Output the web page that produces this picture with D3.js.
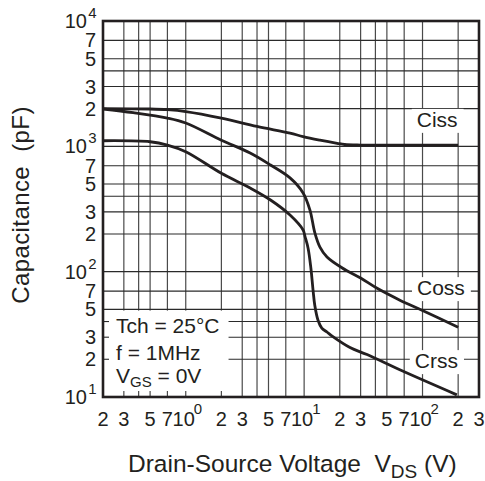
<!DOCTYPE html>
<html><head><meta charset="utf-8">
<script src="https://cdn.jsdelivr.net/npm/d3@7"></script>
<style>
body{margin:0;background:#fff}
text{font-family:"Liberation Sans",Arial,Helvetica,sans-serif;fill:#231f20;white-space:pre}
</style>
</head><body>
<svg id="chart" width="485" height="481"></svg>
<script>
// ---- data ----
const cissV = [0.2, 0.5, 0.7, 1, 2, 4, 7.6, 9.8, 13.6, 19, 22, 30, 200];
const cissC = [2000, 1985, 1960, 1895, 1680, 1440, 1275, 1195, 1120, 1057, 1034, 1024, 1024];

const cossV = [0.2, 0.36, 0.7, 1, 2, 3.5, 5.2, 7.6, 9.8, 11.2, 12.3, 13.6, 15.6, 21, 30, 41, 65, 100, 200];
const cossC = [1985, 1855, 1680, 1535, 1120, 885, 710, 560, 425, 310, 205, 157, 131, 107, 89, 74, 59, 49, 36];

const crssV = [0.2, 0.5, 0.7, 1, 2, 3.5, 5.2, 7.6, 9.8, 10.2, 10.8, 11.4, 11.9, 12.3, 13.1, 14.1, 15.6, 17.5, 24.4, 34, 65, 195];
const crssC = [1108, 1088, 1024, 906, 609, 465, 373, 283, 215, 189, 154, 107, 71, 54, 41, 35.5, 33, 30.3, 24.8, 21.8, 16.4, 10.4];

const seriesNames = ["Ciss", "Coss", "Crss"];
// label anchor points (V, C) for series names
const labelV = [133, 143, 131];
const labelC = [1430, 65, 17];

const xTicks = [0.2, 0.3, 0.5, 0.7, 1, 2, 3, 5, 7, 10, 20, 30, 50, 70, 100, 200, 300];
const xGrid = [0.3, 0.4, 0.5, 0.7, 1, 2, 3, 4, 5, 7, 10, 20, 30, 40, 50, 70, 100, 200];
const yTicks = [10, 20, 30, 50, 70, 100, 200, 300, 500, 700, 1000, 2000, 3000, 5000, 7000, 10000];
const yGrid = [20, 30, 40, 50, 70, 100, 200, 300, 400, 500, 700, 1000, 2000, 3000, 4000, 5000, 7000];

const condLines = [["Tch = 25°C"], ["f = 1MHz"], ["V", "GS", " = 0V"]];
const xTitle = ["Drain-Source Voltage  V", "DS", " (V)"];
const yTitle = "Capacitance  (pF)";

// ---- layout ----
const L = 103, R = 479, T = 21, B = 397;
const x = d3.scaleLog().domain([0.2, 300]).range([L, R]);
const y = d3.scaleLog().domain([10, 10000]).range([B, T]);
const svg = d3.select("#chart");
const ink = "#231f20";

// grid
const g = svg.append("g");
g.selectAll("line.vx").data(xGrid).enter().append("line")
  .attr("x1", d => x(d)).attr("x2", d => x(d)).attr("y1", T).attr("y2", B)
  .attr("stroke", "#4a4a4a").attr("stroke-width", 1.2);
g.selectAll("line.hy").data(yGrid).enter().append("line")
  .attr("x1", L).attr("x2", R).attr("y1", d => y(d)).attr("y2", d => y(d))
  .attr("stroke", "#2a2a2a").attr("stroke-width", 1.1);

// series labels with white backing
const lab = svg.append("g");
seriesNames.forEach((n, i) => {
  const t = lab.append("text").attr("x", x(labelV[i])).attr("y", y(labelC[i]))
    .attr("text-anchor", "middle").attr("font-size", 21).text(n);
  const bb = t.node().getBBox();
  lab.insert("rect", "text").attr("x", bb.x - 5).attr("y", bb.y + 1)
    .attr("width", bb.width + 11).attr("height", bb.height + 1).attr("fill", "#fff");
});

// conditions box
const cg = svg.append("g");
const condBase = [333, 360, 383];
const ctexts = [];
condLines.forEach((parts, i) => {
  const t = cg.append("text").attr("x", 116).attr("y", condBase[i]).attr("font-size", 21);
  t.append("tspan").text(parts[0]);
  if (parts.length > 2) {
    t.append("tspan").attr("font-size", 15).attr("dy", 4).text(parts[1]);
    t.append("tspan").attr("dy", -4).text(parts[2]);
  }
  ctexts.push(t);
});
const maxRight = d3.max(ctexts, t => { const b = t.node().getBBox(); return b.x + b.width; });
const boxTop = y(50) + 1.2;
const boxRight = maxRight + 9;
cg.insert("rect", "text").attr("x", L).attr("y", boxTop)
  .attr("width", boxRight - L).attr("height", B - boxTop).attr("fill", "#fff");
// stubs along left and bottom inside the box
cg.selectAll("line.ls").data(yGrid.filter(d => y(d) > boxTop)).enter().append("line")
  .attr("x1", L).attr("x2", L + 6).attr("y1", d => y(d)).attr("y2", d => y(d))
  .attr("stroke", "#2a2a2a").attr("stroke-width", 1.1);
cg.selectAll("line.bs").data(xGrid.filter(d => x(d) < boxRight)).enter().append("line")
  .attr("x1", d => x(d)).attr("x2", d => x(d)).attr("y1", B - 6).attr("y2", B)
  .attr("stroke", "#4a4a4a").attr("stroke-width", 1.2);

// curves (drawn above the label backings)
const line = d3.line().x(d => x(d[0])).y(d => y(d[1])).curve(d3.curveCatmullRom.alpha(0.5));
const series = [d3.zip(cissV, cissC), d3.zip(cossV, cossC), d3.zip(crssV, crssC)];
svg.append("g").selectAll("path").data(series).enter().append("path")
  .attr("d", line).attr("fill", "none").attr("stroke", ink).attr("stroke-width", 2.8)
  .attr("stroke-linejoin", "round");

// frame
svg.append("rect").attr("x", L).attr("y", T).attr("width", R - L).attr("height", B - T)
  .attr("fill", "none").attr("stroke", ink).attr("stroke-width", 2.6);

// y tick labels
const isDecade = v => Math.abs(Math.log10(v) - Math.round(Math.log10(v))) < 1e-9;
const yl = svg.append("g").attr("font-size", 20);
yTicks.forEach(v => {
  const py = y(v);
  if (isDecade(v)) {
    yl.append("text").attr("x", 87).attr("y", py + 7).attr("text-anchor", "end").text("10");
    yl.append("text").attr("x", 96.5).attr("y", py - 3).attr("text-anchor", "end")
      .attr("font-size", 15).text(Math.round(Math.log10(v)));
  } else {
    const m = Math.round(v / Math.pow(10, Math.floor(Math.log10(v))));
    yl.append("text").attr("x", 96).attr("y", py + 7).attr("text-anchor", "end").text(m);
  }
});

// x tick labels
const xl = svg.append("g").attr("font-size", 20);
xTicks.forEach(v => {
  const px = x(v);
  if (isDecade(v)) {
    xl.append("text").attr("x", px - 2).attr("y", 426).attr("text-anchor", "middle").text("10");
    xl.append("text").attr("x", px + 8).attr("y", 414).attr("font-size", 15)
      .text(Math.round(Math.log10(v)));
  } else {
    const m = Math.round(v / Math.pow(10, Math.floor(Math.log10(v))));
    xl.append("text").attr("x", px).attr("y", 426).attr("text-anchor", "middle").text(m);
  }
});

// axis titles
const xt = svg.append("text").attr("x", 128).attr("y", 472).attr("font-size", 24.5);
xt.append("tspan").text(xTitle[0]);
xt.append("tspan").attr("font-size", 19).attr("dy", 6).text(xTitle[1]);
xt.append("tspan").attr("dy", -6).text(xTitle[2]);

svg.append("text").attr("transform", "translate(29,205) rotate(-90)")
  .attr("text-anchor", "middle").attr("font-size", 24).attr("letter-spacing", 0.4).text(yTitle);
</script>
</body></html>
